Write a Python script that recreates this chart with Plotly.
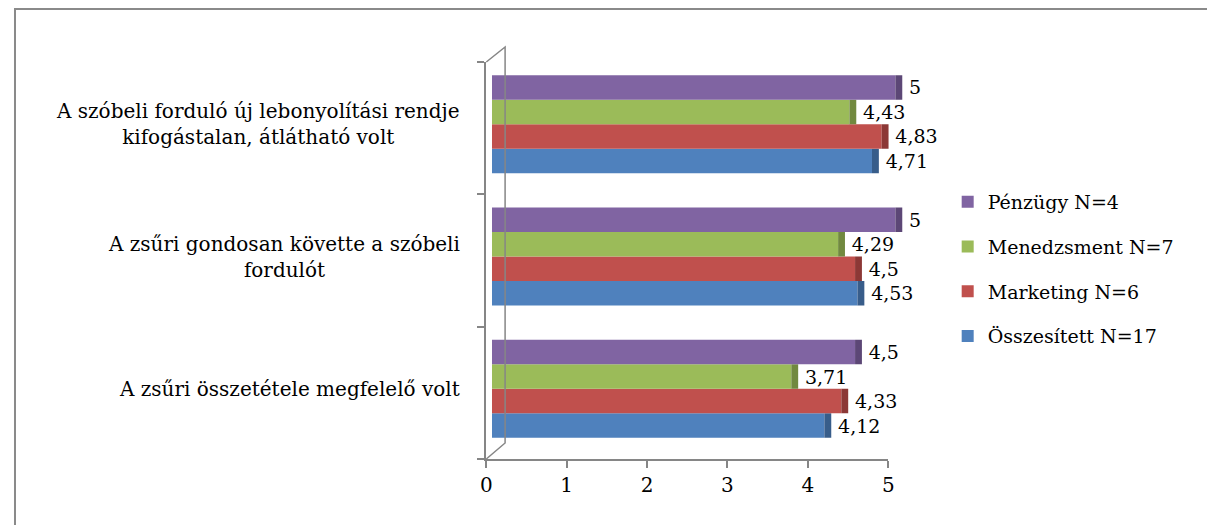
import plotly.graph_objects as go

W, H = 1215, 525
OFF = 8  # page body margin

categories = [
    "A zsűri összetétele megfelelő volt",
    "A zsűri gondosan követte a szóbeli<br>fordulót",
    "A szóbeli forduló új lebonyolítási rendje<br>kifogástalan, átlátható volt",
]
series_names = ["Összesített N=17", "Marketing N=6", "Menedzsment N=7", "Pénzügy N=4"]
osszesitett = [4.12, 4.53, 4.71]
marketing = [4.33, 4.5, 4.83]
menedzsment = [3.71, 4.29, 4.43]
penzugy = [4.5, 5, 5]
x_ticks = [0, 1, 2, 3, 4, 5]

series_values = [osszesitett, marketing, menedzsment, penzugy]
front_colors = ["#4F81BD", "#C0504D", "#9BBB59", "#8064A2"]
side_colors = ["#385D8A", "#8C3836", "#71893F", "#5C4776"]
legend_ranks = [4, 3, 2, 1]
DEPTH = 0.085
FONT = "DejaVu Serif"

def px(v):
    return (v - OFF) / W

def py(v):
    return (H - (v - OFF)) / H

def fmt(v):
    return "\u2009" + ("%g" % v).replace(".", ",")

fig = go.Figure()
for i, (name, vals) in enumerate(zip(series_names, series_values)):
    fig.add_trace(go.Bar(
        y=categories, x=vals, orientation="h", name=name,
        marker=dict(color=front_colors[i], line=dict(width=0)),
        offsetgroup=str(i), legendgroup=str(i), legendrank=legend_ranks[i],
        xaxis="x", yaxis="y",
    ))
    fig.add_trace(go.Bar(
        y=categories, x=[DEPTH] * len(vals), base=vals, orientation="h",
        marker=dict(color=side_colors[i], line=dict(width=0)),
        offsetgroup=str(i), legendgroup=str(i), legendrank=legend_ranks[i],
        showlegend=False,
        text=[fmt(v) for v in vals], textposition="outside",
        textfont=dict(family=FONT, size=19, color="black"),
        constraintext="none", cliponaxis=False,
        xaxis="x", yaxis="y", hoverinfo="skip",
    ))

fig.add_trace(go.Scatter(x=[None], y=[None], xaxis="x2", yaxis="y2",
                         showlegend=False, hoverinfo="skip", mode="markers"))

axis_color = "#868686"
annotations = [
    dict(text=c, x=px(460), xref="paper", xanchor="right", y=c, yref="y",
         yanchor="middle", align="center", showarrow=False,
         font=dict(family=FONT, size=20, color="black"))
    for c in categories
]

shapes = [
    dict(type="rect", xref="paper", yref="paper", x0=px(9), y0=py(560), x1=px(1240), y1=py(9),
         line=dict(color="#8a8a8a", width=2), fillcolor="rgba(0,0,0,0)"),
    dict(type="path", xref="paper", yref="paper",
         path="M %f,%f L %f,%f L %f,%f L %f,%f" % (px(485), py(62), px(504), py(47),
                                                 px(504), py(443), px(485), py(459)),
         line=dict(color=axis_color, width=1.5)),
]

XMAX = 5.3
fig.update_layout(
    width=W, height=H,
    margin=dict(l=0, r=0, t=0, b=0),
    paper_bgcolor="white", plot_bgcolor="rgba(0,0,0,0)",
    barmode="group", bargap=0.26, bargroupgap=0,
    font=dict(family=FONT, size=20, color="black"),
    xaxis=dict(domain=[px(490.7), px(490.7 + XMAX * 81.5)], range=[0, XMAX], visible=False),
    yaxis=dict(domain=[py(455), py(58)], type="category", categoryorder="array",
               categoryarray=categories, visible=False),
    xaxis2=dict(domain=[px(485), px(891)], range=[0, 5], anchor="y2",
                tickvals=x_ticks, ticks="outside", ticklen=7, tickcolor=axis_color,
                tickwidth=1.5,
                showline=True, linecolor=axis_color, linewidth=2, showgrid=False,
                zeroline=False, tickfont=dict(family=FONT, size=20, color="black")),
    yaxis2=dict(domain=[py(459), py(62)], range=[-0.5, 2.5], anchor="x2",
                tickvals=[-0.5, 0.5, 1.5, 2.5], ticks="outside", ticklen=7,
                tickcolor=axis_color, tickwidth=1.5, showticklabels=False, showline=True,
                linecolor=axis_color, linewidth=2, showgrid=False, zeroline=False),
    legend=dict(x=px(951), y=py(183), xanchor="left", yanchor="top",
                traceorder="grouped", tracegroupgap=17,
                font=dict(family=FONT, size=19, color="black"),
                bgcolor="rgba(0,0,0,0)"),
    annotations=annotations,
    shapes=shapes,
    showlegend=True,
)

fig.write_html("out.html")
